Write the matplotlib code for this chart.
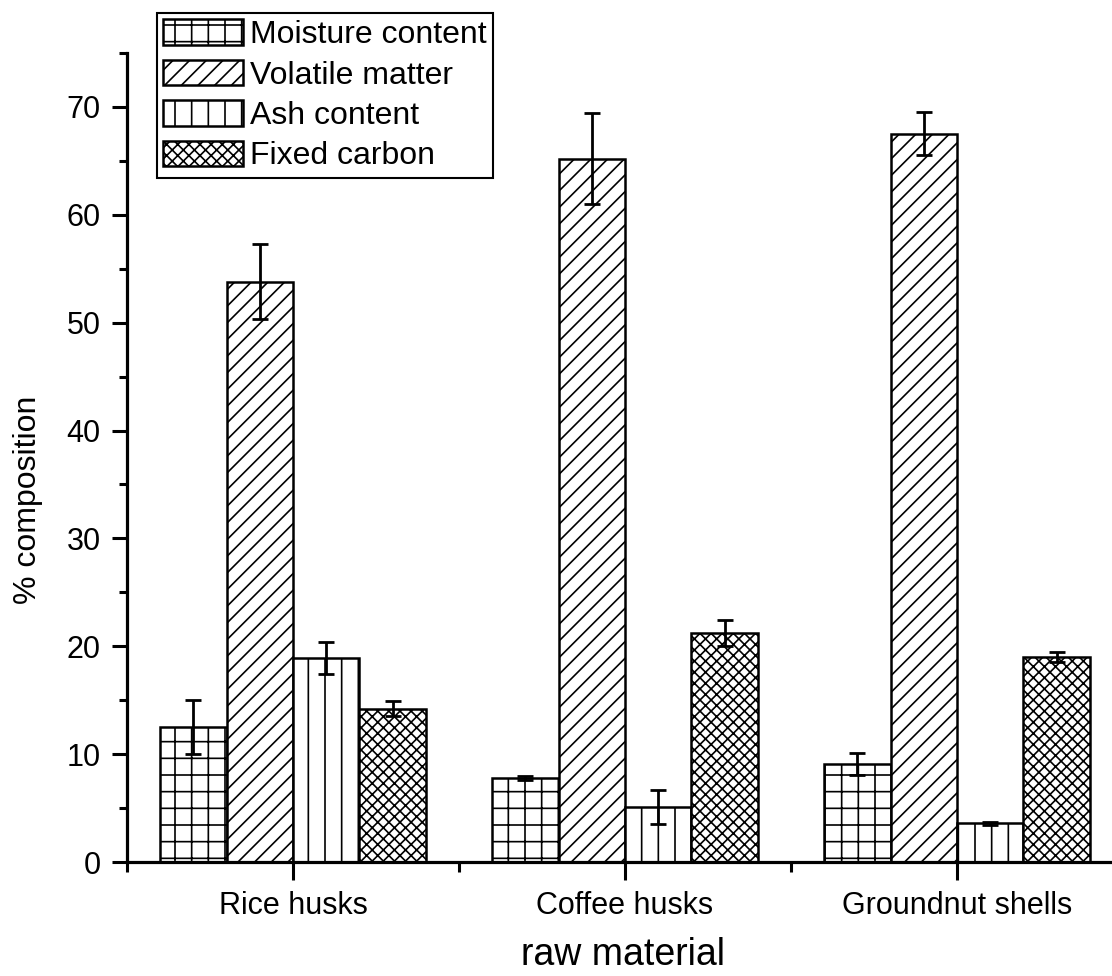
import numpy as np
import matplotlib
matplotlib.use("Agg")
import matplotlib.pyplot as plt
from matplotlib.ticker import MultipleLocator, FixedLocator

plt.rcParams['font.family'] = ['Liberation Sans', 'DejaVu Sans']
plt.rcParams['hatch.linewidth'] = 1.2

materials = ['Rice husks', 'Coffee husks', 'Groundnut shells']
components = ['Moisture content', 'Volatile matter', 'Ash content', 'Fixed carbon']

moisture = [12.5, 7.8, 9.1]
moisture_err = [2.5, 0.2, 1.0]
volatile = [53.8, 65.2, 67.5]
volatile_err = [3.5, 4.2, 2.0]
ash = [18.9, 5.1, 3.6]
ash_err = [1.5, 1.6, 0.15]
fixed_carbon = [14.2, 21.2, 19.0]
fixed_carbon_err = [0.7, 1.2, 0.5]

values = [moisture, volatile, ash, fixed_carbon]
errors = [moisture_err, volatile_err, ash_err, fixed_carbon_err]
hatches = ['+', '//', '|', 'xxx']

fig = plt.figure(figsize=(11.12, 9.76), dpi=100)
ax = fig.add_axes([0.1142, 0.1168, 0.8858, 0.8289])

x = np.arange(1, len(materials) + 1)
width = 0.2
offsets = [-1.5, -0.5, 0.5, 1.5]

for vals, errs, hatch, label, off in zip(values, errors, hatches, components, offsets):
    ax.bar(x + off * width, vals, width, facecolor='white', edgecolor='black',
           linewidth=1.8, hatch=hatch, label=label, zorder=2)
    ax.errorbar(x + off * width, vals, yerr=errs, fmt='none', ecolor='black',
                elinewidth=2, capsize=5.5, capthick=2, zorder=3)

ax.set_xlim(0.5, 3.467)
ax.set_ylim(0, 75)

ax.xaxis.set_major_locator(FixedLocator(x))
ax.xaxis.set_minor_locator(FixedLocator([0.5, 1.5, 2.5, 3.5]))
ax.set_xticklabels(materials)
ax.yaxis.set_major_locator(MultipleLocator(10))
ax.yaxis.set_minor_locator(MultipleLocator(5))

for side in ['top', 'right']:
    ax.spines[side].set_visible(False)
for side in ['left', 'bottom']:
    ax.spines[side].set_linewidth(2.3)

ax.tick_params(axis='y', which='major', direction='out', length=11, width=2.2,
               labelsize=22, pad=8)
ax.tick_params(axis='y', which='minor', direction='out', length=6, width=2.2)
ax.tick_params(axis='x', which='major', direction='out', length=13, width=2.2,
               labelsize=22, pad=8)
ax.tick_params(axis='x', which='minor', direction='out', length=7, width=2.2)

ax.set_ylabel('% composition', fontsize=23)
ax.yaxis.set_label_coords(-0.085, 0.4475)
ax.set_xlabel('raw material', fontsize=27, va='baseline')
ax.xaxis.set_label_coords(0.5036, -0.1275)

leg = ax.legend(loc='upper left', bbox_to_anchor=(0.0305, 1.0494), fontsize=23,
                frameon=True, fancybox=False, edgecolor='black', framealpha=1,
                handlelength=2.5, handleheight=0.85, handletextpad=0.2,
                borderpad=0.2, labelspacing=0.3, borderaxespad=0)
leg.get_frame().set_linewidth(1.5)

fig.savefig('out.png', dpi=100)
